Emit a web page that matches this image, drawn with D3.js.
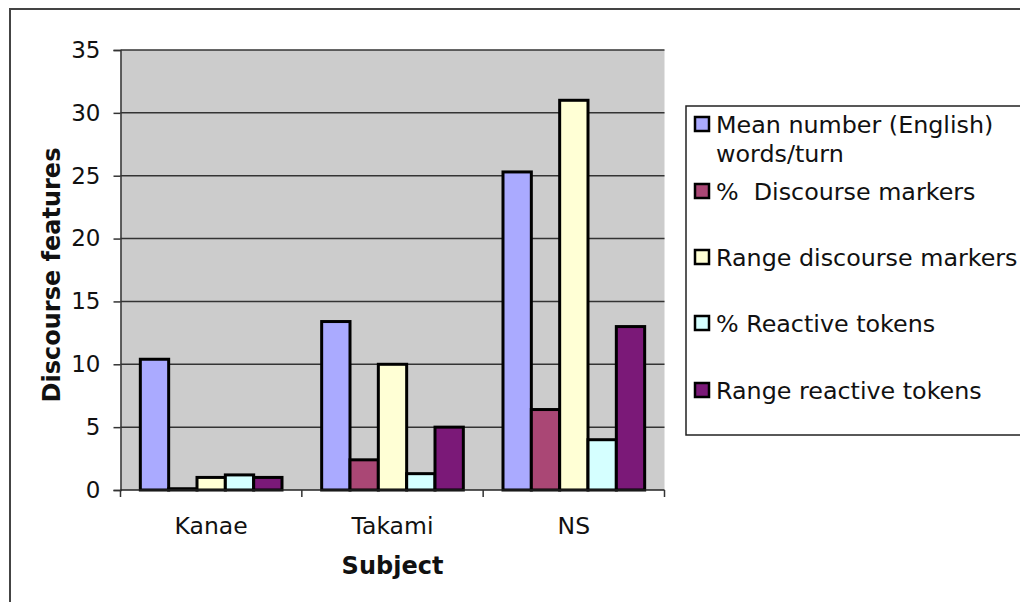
<!DOCTYPE html>
<html>
<head>
<meta charset="utf-8">
<script src="https://cdn.jsdelivr.net/npm/d3@7"></script>
<style>
  html, body { margin: 0; padding: 0; background: #fff; }
  svg { display: block; font-family: "DejaVu Sans", Verdana, sans-serif; }
</style>
</head>
<body>
<svg id="chart" width="1020" height="602"></svg>
<script>
// Subjects on the x axis
const categories = ["Kanae", "Takami", "NS"];

// One entry per discourse feature (legend order)
const seriesNames = [
  ["Mean number (English)", "words/turn"],
  ["%  Discourse markers"],
  ["Range discourse markers"],
  ["% Reactive tokens"],
  ["Range reactive tokens"]
];
const seriesColors = ["#aaaaff", "#aa4775", "#ffffd5", "#d5ffff", "#7b1978"];

// Values per series, in category order
const meanWords      = [10.4, 13.4, 25.3];
const pctMarkers     = [0.1, 2.4, 6.4];
const rangeMarkers   = [1.0, 10.0, 31.0];
const pctReactive    = [1.2, 1.3, 4.0];
const rangeReactive  = [1.0, 5.0, 13.0];
const seriesValues = [meanWords, pctMarkers, rangeMarkers, pctReactive, rangeReactive];

const yTicks = [0, 5, 10, 15, 20, 25, 30, 35];

const svg = d3.select("#chart");

// Outer chart frame
svg.append("rect")
  .attr("x", 10).attr("y", 9)
  .attr("width", 1040).attr("height", 620)
  .attr("fill", "#fff").attr("stroke", "#444").attr("stroke-width", 2);

const plot = { left: 120.5, right: 664.5, top: 50, bottom: 490 };

const x0 = d3.scaleBand().domain(categories).range([plot.left, plot.right]).padding(0);
const x1 = d3.scaleBand().domain(d3.range(seriesValues.length))
  .range([0, x0.bandwidth()]).paddingInner(0).paddingOuter(0.7);
const y = d3.scaleLinear().domain([0, 35]).range([plot.bottom, plot.top]);

// Plot background
svg.append("rect")
  .attr("x", plot.left).attr("y", plot.top)
  .attr("width", plot.right - plot.left).attr("height", plot.bottom - plot.top)
  .attr("fill", "#cccccc");

// Y axis with gridlines
const yAxis = d3.axisLeft(y).tickValues(yTicks).tickSize(7).tickPadding(13);
const yg = svg.append("g").attr("transform", `translate(${plot.left},0)`).call(yAxis);
yg.select(".domain").attr("stroke", "#333").attr("stroke-width", 1.5);
yg.selectAll(".tick line").attr("stroke", "#333").attr("stroke-width", 1.5);
yg.selectAll(".tick text").attr("font-size", 23).attr("fill", "#111")
  .attr("font-family", "DejaVu Sans");

svg.append("g").selectAll("line").data(yTicks.filter(d => d > 0)).join("line")
  .attr("x1", plot.left).attr("x2", plot.right)
  .attr("y1", d => y(d)).attr("y2", d => y(d))
  .attr("stroke", "#333").attr("stroke-width", 1.5);

// Bars
const groups = svg.append("g").selectAll("g").data(categories).join("g")
  .attr("transform", d => `translate(${x0(d)},0)`);
groups.selectAll("rect")
  .data((c, ci) => seriesValues.map((vals, si) => ({ si, v: vals[ci] })))
  .join("rect")
  .attr("x", d => x1(d.si))
  .attr("y", d => y(d.v))
  .attr("width", x1.bandwidth())
  .attr("height", d => y(0) - y(d.v))
  .attr("fill", d => seriesColors[d.si])
  .attr("stroke", "#000").attr("stroke-width", 3);

// X axis: ticks sit on category boundaries
const xg = svg.append("g");
xg.append("line")
  .attr("x1", plot.left).attr("x2", plot.right)
  .attr("y1", plot.bottom).attr("y2", plot.bottom)
  .attr("stroke", "#222").attr("stroke-width", 1.5);
const boundaries = categories.map(c => x0(c)).concat([x0(categories[categories.length - 1]) + x0.bandwidth()]);
xg.selectAll("line.tk").data(boundaries).join("line").attr("class", "tk")
  .attr("x1", d => d).attr("x2", d => d)
  .attr("y1", plot.bottom).attr("y2", plot.bottom + 7)
  .attr("stroke", "#333").attr("stroke-width", 1.5);
xg.selectAll("text").data(categories).join("text")
  .attr("x", d => x0(d) + x0.bandwidth() / 2)
  .attr("y", 534)
  .attr("text-anchor", "middle")
  .attr("font-size", 23.5).attr("fill", "#111")
  .text(d => d);

// Axis titles
svg.append("text")
  .attr("x", (plot.left + plot.right) / 2).attr("y", 574)
  .attr("text-anchor", "middle").attr("font-weight", "bold")
  .attr("font-size", 24).attr("fill", "#111")
  .text("Subject");

svg.append("text")
  .attr("transform", "translate(60,275) rotate(-90)")
  .attr("text-anchor", "middle").attr("font-weight", "bold")
  .attr("font-size", 24).attr("fill", "#111")
  .text("Discourse features");

// Legend
const legend = svg.append("g");
legend.append("rect")
  .attr("x", 686).attr("y", 106).attr("width", 400).attr("height", 329)
  .attr("fill", "#fff").attr("stroke", "#222").attr("stroke-width", 1.5);

const rowCenters = [124, 191, 257, 323, 390];
const lineGap = 29;
const items = legend.selectAll("g.item").data(seriesNames).join("g").attr("class", "item");
items.append("rect")
  .attr("x", 695).attr("y", (d, i) => rowCenters[i] - 7)
  .attr("width", 14).attr("height", 14)
  .attr("fill", (d, i) => seriesColors[i])
  .attr("stroke", "#000").attr("stroke-width", 2.5);
items.each(function (lines, i) {
  const g = d3.select(this);
  lines.forEach((t, k) => {
    g.append("text")
      .attr("x", 716).attr("y", rowCenters[i] + 8.5 + k * lineGap)
      .attr("font-size", 23.8).attr("fill", "#111")
      .style("white-space", "pre")
      .text(t);
  });
});
</script>
</body>
</html>
